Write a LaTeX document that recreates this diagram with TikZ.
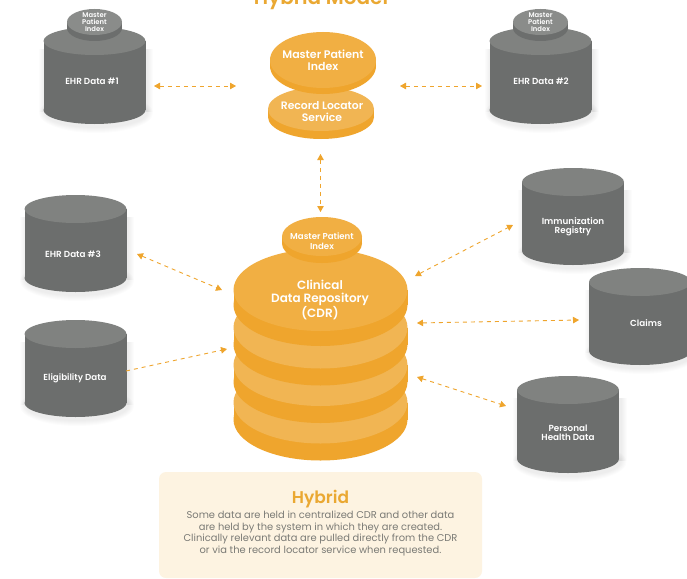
\documentclass[tikz,border=0pt]{standalone}
\usepackage{fontspec}
\setmainfont{Poppins}[BoldFont={Poppins SemiBold}]
\usetikzlibrary{arrows.meta}
\definecolor{gtop}{HTML}{808280}
\definecolor{gbody}{HTML}{6C6E6D}
\definecolor{gdisc}{HTML}{8A8C8A}
\definecolor{grim}{HTML}{6C6E6D}
\definecolor{otop}{HTML}{F1AF43}
\definecolor{olight}{HTML}{F1B553}
\definecolor{orim}{HTML}{EFA52D}
\definecolor{panel}{HTML}{FDF3E1}
\definecolor{paneltxt}{HTML}{7A7A75}
\definecolor{heading}{HTML}{EAA832}
\tikzset{
  lbl/.style={text=white,align=center,inner sep=0pt},
  lk/.style={draw=orim,line width=0.9pt,dash pattern=on 4pt off 4pt},
  twohead/.style={lk,{Triangle[width=6.5pt,length=6pt,fill=orim]}-{Triangle[width=6.5pt,length=6pt,fill=orim]}},
  onehead/.style={lk,-{Triangle[width=6.5pt,length=6pt,fill=orim]}}
}
% disc: cx, ellipse centre y, rx, ry, thickness, top colour, rim colour
\newcommand{\discshape}[7]{%
  \fill[#7] (#1,#2+#5) ellipse [x radius=#3pt,y radius=#4pt];
  \fill[#7] (#1-#3,#2) rectangle (#1+#3,#2+#5);
  \fill[#6] (#1,#2) ellipse [x radius=#3pt,y radius=#4pt];
}
% grey cylinder: cx, top y
\newcommand{\greycyl}[2]{%
  \foreach \k in {1,...,6}{
    \fill[black,opacity=0.012] (#1+1.5,#2+83+3) ellipse [x radius=51pt+\k pt,y radius=14pt+\k pt];
    \fill[black,opacity=0.012] (#1+1.5-51-\k,#2+22) rectangle (#1+1.5+51+\k,#2+85);
  }
  \discshape{#1}{#2+14}{51}{14}{69}{gtop}{gbody}
}
\newcommand{\greycap}[2]{%
  \discshape{#1}{#2}{27.5}{13}{6}{gdisc}{grim}
}
\begin{document}
\begin{tikzpicture}[x=1pt,y=-1pt]
\useasboundingbox (0,0) rectangle (687,578);
\clip (0,0) rectangle (687,578);
\fill[white] (0,0) rectangle (687,578);

% title
\node[text=heading,font=\fontsize{20}{22}\selectfont\bfseries,inner sep=0pt] (title) at (321,-1) {Hybrid Model};

% grey cylinders
\greycyl{94.5}{27}
\greycap{94.5}{22}
\greycyl{540.5}{27}
\greycap{540.5}{22}
\greycyl{75.5}{195}
\greycyl{75.5}{320}
\greycyl{573}{168}
\greycyl{640}{268}
\greycyl{568}{376}

\node[lbl,font=\fontsize{6.8}{7}\selectfont\bfseries] (mpi1) at (94.5,22.5) {Master\\Patient\\Index};
\node[lbl,font=\fontsize{6.8}{7}\selectfont\bfseries] (mpi2) at (540.5,22.5) {Master\\Patient\\Index};
\node[lbl,font=\fontsize{8.8}{9}\selectfont\bfseries] (ehr1) at (92,81) {EHR Data \#1};
\node[lbl,font=\fontsize{8.8}{9}\selectfont\bfseries] (ehr2) at (541,81) {EHR Data \#2};
\node[lbl,font=\fontsize{8.8}{9}\selectfont\bfseries] (ehr3) at (73,254) {EHR Data \#3};
\node[lbl,font=\fontsize{8.7}{9}\selectfont\bfseries] (elig) at (75,378) {Eligibility Data};
\node[lbl,font=\fontsize{8.8}{8.7}\selectfont\bfseries] (imm) at (573,227) {Immunization\\Registry};
\node[lbl,font=\fontsize{8.8}{9}\selectfont\bfseries] (claims) at (646,323) {Claims};
\node[lbl,font=\fontsize{8.8}{8.7}\selectfont\bfseries] (phd) at (568,433) {Personal\\Health Data};

% record locator and master patient index
\discshape{321}{109}{53}{22}{8}{olight}{orim}
\discshape{323}{60}{53}{28}{6}{otop}{orim}
\node[lbl,font=\fontsize{11}{12}\selectfont\bfseries] (mpic) at (323,60.5) {Master Patient\\Index};
\node[lbl,font=\fontsize{10.8}{12}\selectfont\bfseries] (rls) at (322,112) {Record Locator\\Service};

% CDR stack
\discshape{320.5}{402.5}{87}{41}{17}{olight}{orim}
\discshape{320.5}{365}{87}{41}{17}{olight}{orim}
\discshape{320.5}{327.5}{87}{41}{17}{olight}{orim}
\discshape{320.5}{290}{87}{41}{15}{otop}{orim}
\discshape{322}{236.5}{40}{19.5}{7}{otop}{orim}
\node[lbl,font=\fontsize{8.6}{9.5}\selectfont\bfseries] (mpic2) at (322,241) {Master Patient\\Index};
\node[lbl,font=\fontsize{12}{13.5}\selectfont\bfseries] (cdr) at (320,300) {Clinical\\Data Repository\\(CDR)};

% connector ends
\coordinate (a1) at (154,86);
\coordinate (a2) at (236,86);
\coordinate (b1) at (400,86);
\coordinate (b2) at (482,86);
\coordinate (c1) at (320.5,154);
\coordinate (c2) at (320.5,212);
\coordinate (d1) at (137,254);
\coordinate (d2) at (222,290);
\coordinate (e1) at (126,371);
\coordinate (e2) at (227,349);
\coordinate (f1) at (415,276);
\coordinate (f2) at (513,225);
\coordinate (g1) at (417,323);
\coordinate (g2) at (579,320);
\coordinate (h1) at (417,377);
\coordinate (h2) at (506,406);
\draw[twohead] (a1) -- (a2);
\draw[twohead] (b1) -- (b2);
\draw[twohead] (c1) -- (c2);
\draw[twohead] (d1) -- (d2);
\draw[onehead] (e1) -- (e2);
\draw[twohead] (f1) -- (f2);
\draw[twohead] (g1) -- (g2);
\draw[twohead] (h1) -- (h2);

% panel
\fill[panel,rounded corners=7pt] (159,472) rectangle (482,578);
\node[text=heading,font=\fontsize{17}{19}\selectfont\bfseries,inner sep=0pt] (hyb) at (320.5,499) {Hybrid};
\node[text=paneltxt,font=\fontsize{9.9}{11.7}\selectfont,align=center,inner sep=0pt] (desc) at (320.5,533.5) {Some data are held in centralized CDR and other data\\are held by the system in which they are created.\\Clinically relevant data are pulled directly from the CDR\\or via the record locator service when requested.};
\end{tikzpicture}
\end{document}
